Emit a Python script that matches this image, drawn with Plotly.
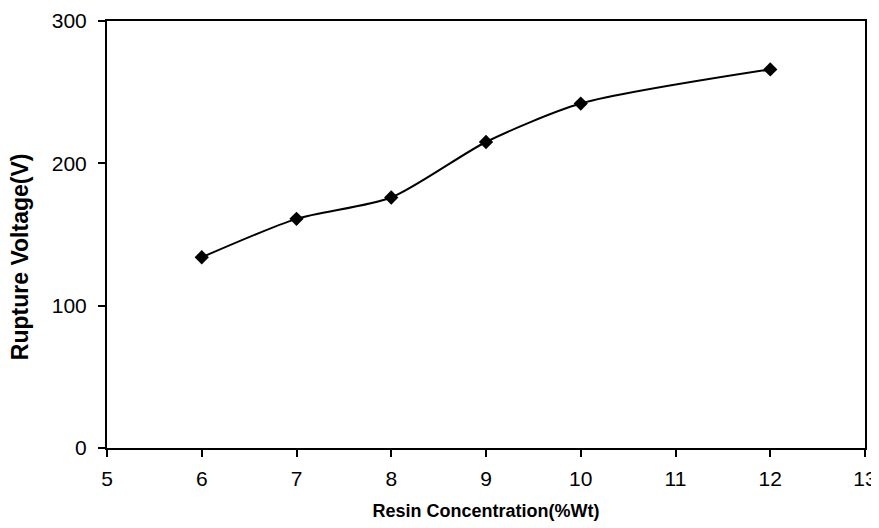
import plotly.graph_objects as go

resin_conc = [6, 7, 8, 9, 10, 12]
rupture_voltage = [134, 161, 176, 215, 242, 266]

FAM = "Liberation Sans, Arial, sans-serif"

fig = go.Figure()
fig.add_trace(go.Scatter(
    x=resin_conc, y=rupture_voltage, mode="lines+markers",
    line=dict(color="black", width=2, shape="spline", smoothing=0.7),
    marker=dict(symbol="diamond", size=11, color="black"),
    showlegend=False,
))

tick_font = dict(family=FAM, size=21, color="black")
fig.update_layout(
    width=871, height=520,
    margin=dict(l=99, r=14, t=13, b=80),
    paper_bgcolor="white", plot_bgcolor="white",
    font=tick_font,
)
fig.update_xaxes(
    range=[5, 13], dtick=1, tick0=5, showgrid=False, zeroline=False,
    showline=True, linecolor="black", linewidth=2, mirror=True,
    ticks="outside", ticklen=7, tickcolor="black", tickwidth=1.5,
    tickfont=tick_font, automargin=False, ticklabelstandoff=4,
    title=dict(text="<b>Resin Concentration(%Wt)</b>",
               font=dict(family=FAM, size=18, color="black"), standoff=15),
)
fig.update_yaxes(
    range=[0, 300], dtick=100, showgrid=False, zeroline=False,
    showline=True, linecolor="black", linewidth=2, mirror=True,
    ticks="outside", ticklen=7, tickcolor="black", tickwidth=1.5,
    tickfont=tick_font, automargin=False, ticklabelstandoff=7,
)
fig.add_annotation(
    text="<b>Rupture Voltage(V)</b>", textangle=-90,
    xref="paper", yref="paper", x=0, y=0.447, xanchor="center", yanchor="middle",
    xshift=-87, showarrow=False,
    font=dict(family=FAM, size=23, color="black"),
)
fig.write_html("out.html")
